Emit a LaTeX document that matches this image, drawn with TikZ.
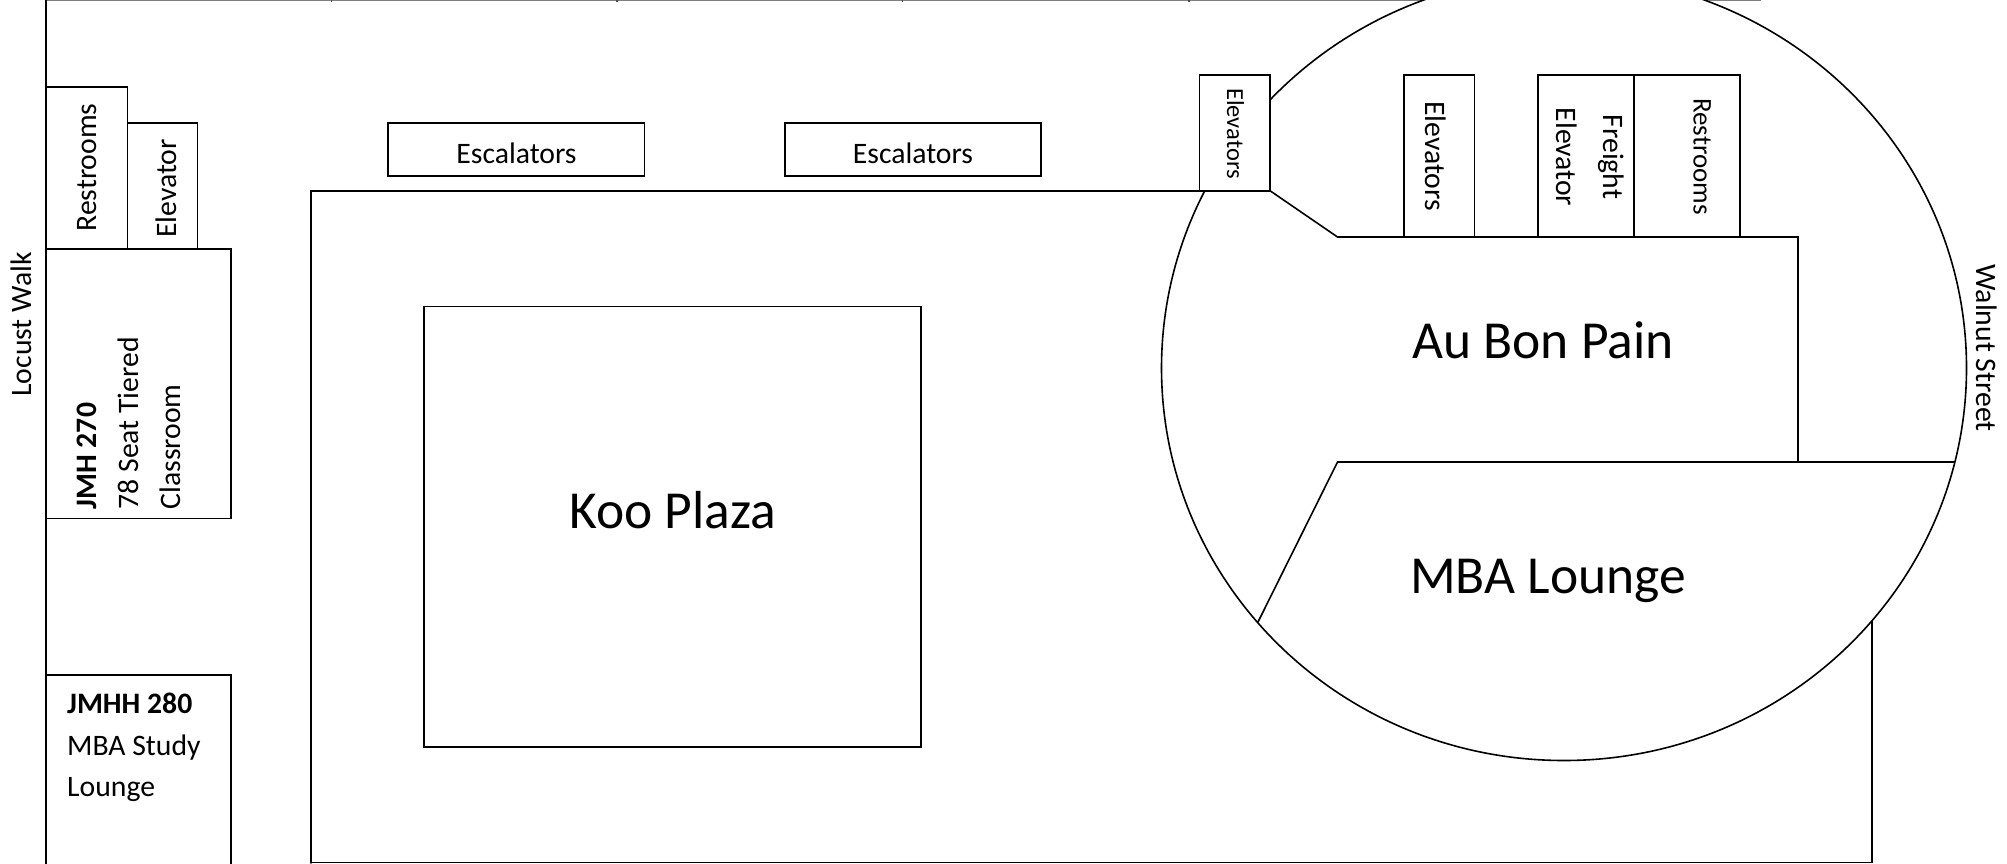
\documentclass[tikz,border=0pt]{standalone}
\usepackage{fontspec}
\usetikzlibrary{shapes.geometric}
\setmainfont{Carlito}
\tikzset{
  wall/.style={draw=black,line width=1.6pt,line cap=round},
  room/.style={draw=black,line width=1.6pt,fill=white,inner sep=0pt,outer sep=0pt,anchor=north west},
  lbl/.style={inner sep=0pt,anchor=base,text=black},
  upward/.style={lbl,rotate=90},
  downward/.style={lbl,rotate=-90},
  upstart/.style={inner sep=0pt,anchor=base west,text=black,rotate=90},
  leftstart/.style={inner sep=0pt,anchor=base west,text=black},
}
\newcommand{\fs}[1]{\fontsize{#1}{#1}\selectfont}
\newcommand{\roombox}[5]{\node[room,minimum width=#4pt-#2pt,minimum height=#5pt-#3pt] (#1) at (#2,#3) {};}
\begin{document}
\begin{tikzpicture}[x=1pt,y=-1pt]
\useasboundingbox (0,0) rectangle (2007,863);
\begin{scope}
\clip (0,0) rectangle (2007,863);
% top edge with its small ticks
\draw[draw=gray,line width=1.6pt] (46,0) -- (1761,0);
\foreach \tx in {331.6,617,902.5,1189,1474.5}
  \draw[draw=black!70,line width=1.4pt] (\tx,0) -- (\tx,1.6);
% walls
\draw[wall] (46,0) -- (46,863);
\draw[wall] (311,863) -- (311,190.7) -- (1210,190.7);
\draw[wall] (311,862.4) -- (1872,862.4) -- (1872,600);
% plaza
\roombox{plaza}{424}{306.5}{921}{747}
% round hall
\node[draw=black,line width=1.6pt,fill=white,ellipse,minimum width=805pt,minimum height=785pt,inner sep=0pt,outer sep=0pt] (hall) at (1564,368) {};
% escalators
\roombox{esca}{388}{123}{644.5}{176}
\roombox{escb}{785}{123}{1041}{176}
% left column
\roombox{rest}{46}{87}{127.5}{249}
\roombox{elev}{127.5}{123}{197.5}{249}
\roombox{jmha}{46}{249}{231}{518.5}
\roombox{jmhb}{46}{675}{231}{870}
% inside the hall
\coordinate (ledgeA) at (1337.5,237);
\coordinate (ledgeB) at (1798,237);
\coordinate (ledgeC) at (1798,462);
\coordinate (ledgeD) at (1337.5,462);
\coordinate (loungeR) at (1954.6,462);
\coordinate (loungeL) at (1258,622);
\roombox{elevb}{1199.5}{75}{1270}{190.7}
\draw[wall] (elevb.south east) -- (ledgeA) -- (ledgeB) -- (ledgeC);
\draw[wall] (loungeL) -- (ledgeD) -- (loungeR);
\roombox{elevc}{1404}{75}{1474.5}{237}
\roombox{freight}{1538}{75}{1634}{237}
\roombox{restb}{1634}{75}{1740}{237}
% labels
\node[lbl,font=\fs{53.5}] (koo) at (673,528) {Koo Plaza};
\node[lbl,font=\fs{29.7}] (esct1) at (516.5,163) {Escalators};
\node[lbl,font=\fs{29.7}] (esct2) at (913,163) {Escalators};
\node[lbl,font=\fs{53.5}] (abp) at (1543,358) {Au Bon Pain};
\node[lbl,font=\fs{53.5}] (mba) at (1548,593) {MBA Lounge};
\node[upward,font=\fs{29.7}] (locust) at (31,324.5) {Locust Walk};
\node[upward,font=\fs{29.7}] (restt) at (96,167.5) {Restrooms};
\node[upward,font=\fs{29.7}] (elevt) at (176,188.5) {Elevator};
\node[upstart,font=\fs{29.7}\bfseries] (j270) at (96,509.5) {JMH 270};
\node[upstart,font=\fs{29.7}] (seat) at (138,509.5) {78 Seat Tiered};
\node[upstart,font=\fs{29.7}] (class) at (180,509.5) {Classroom};
\node[leftstart,font=\fs{29.7}\bfseries] (j280) at (67,713.5) {JMHH 280};
\node[leftstart,font=\fs{29.7}] (study) at (67,755) {MBA Study};
\node[leftstart,font=\fs{29.7}] (lng) at (67,796.5) {Lounge};
\node[downward,font=\fs{24.5}] (elt1) at (1227,133.5) {Elevators};
\node[downward,font=\fs{29.7}] (elt2) at (1425.5,156) {Elevators};
\node[downward,font=\fs{29.7}] (frt) at (1603,157) {Freight};
\node[downward,font=\fs{29.7}] (frt2) at (1556.5,157) {Elevator};
\node[downward,font=\fs{27}] (rst2) at (1693.5,156.5) {Restrooms};
\node[downward,font=\fs{29.7}] (wal) at (1976,348) {Walnut Street};
\end{scope}
\end{tikzpicture}
\end{document}
